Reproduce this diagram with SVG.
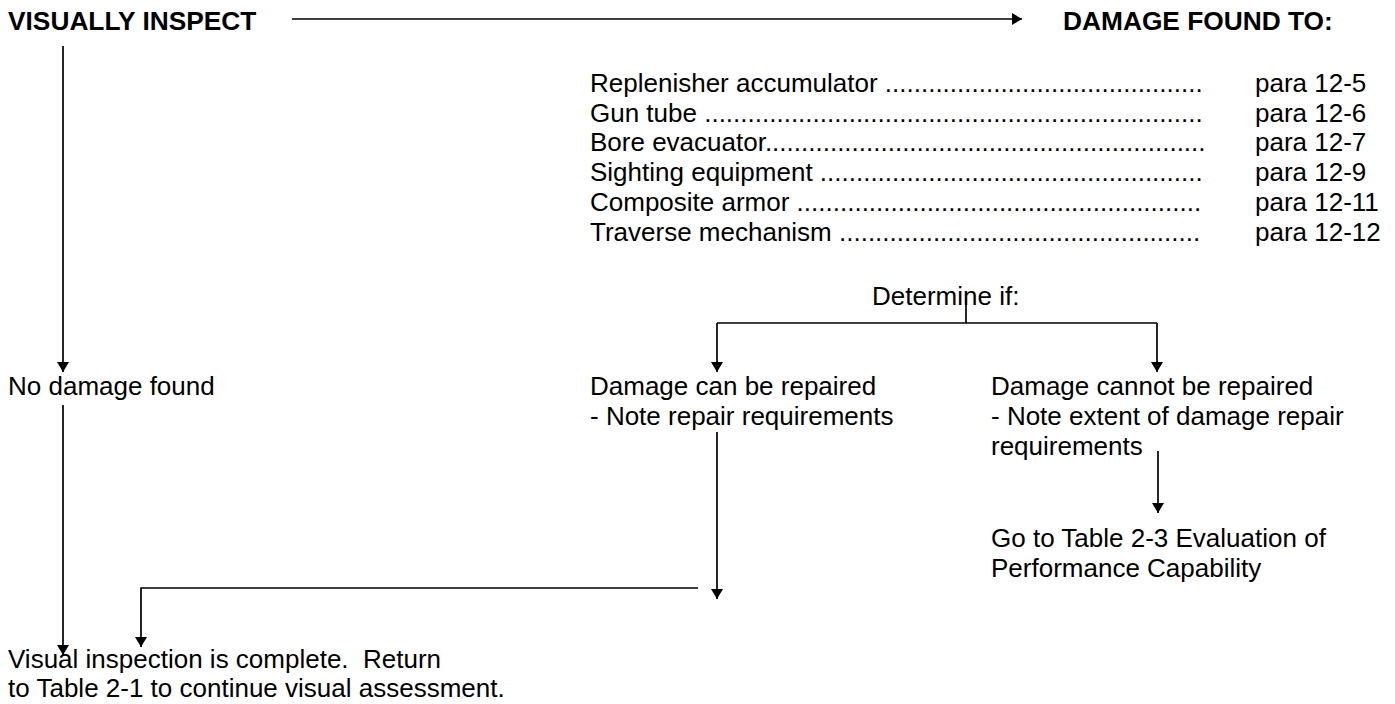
<svg xmlns="http://www.w3.org/2000/svg" width="1395" height="704" viewBox="0 0 1395 704">
  <style>
    .t { font-family: "Liberation Sans", Arial, sans-serif; font-size: 26px; fill: #000; }
    .b { font-family: "Liberation Sans", Arial, sans-serif; font-size: 26.3px; font-weight: bold; fill: #000; }
    .ln { fill: none; stroke: #000; stroke-width: 1.7; }
    .arr { marker-end: url(#head); }
  </style>
  <defs>
    <marker id="head" viewBox="0 0 10 12" refX="10" refY="6" markerWidth="10" markerHeight="12" markerUnits="userSpaceOnUse" orient="auto">
      <path d="M0,0 L10,6 L0,12 z" fill="#000"/>
    </marker>
  </defs>

  <rect width="1395" height="704" fill="#fff"/>

  <g id="connectors">
    <!-- inspect -> damage found -->
    <line class="ln arr" x1="292" y1="19" x2="1022" y2="19"/>
    <!-- inspect -> no damage -->
    <line class="ln arr" x1="63" y1="46" x2="63" y2="372"/>
    <!-- no damage -> complete -->
    <line class="ln arr" x1="63" y1="405" x2="63" y2="655"/>
    <!-- determine split -->
    <line class="ln" x1="966" y1="298" x2="966" y2="323"/>
    <line class="ln" x1="717" y1="323" x2="1157" y2="323"/>
    <line class="ln arr" x1="717" y1="323" x2="717" y2="372"/>
    <line class="ln arr" x1="1157" y1="323" x2="1157" y2="372"/>
    <!-- cannot repair -> table 2-3 -->
    <line class="ln arr" x1="1158" y1="451" x2="1158" y2="513"/>
    <!-- can repair -> complete -->
    <line class="ln arr" x1="717" y1="432" x2="717" y2="599"/>
    <polyline class="ln arr" points="698,588 141,588 141,647"/>
  </g>

  <g id="inspect">
    <text class="b" x="8" y="30">VISUALLY INSPECT</text>
  </g>

  <g id="damage-found">
    <text class="b" x="1063" y="30">DAMAGE FOUND TO:</text>
    <text class="t" x="590" y="92">Replenisher accumulator ............................................</text>
    <text class="t" x="590" y="121.7">Gun tube .....................................................................</text>
    <text class="t" x="590" y="151.4">Bore evacuator.............................................................</text>
    <text class="t" x="590" y="181.1">Sighting equipment .....................................................</text>
    <text class="t" x="590" y="210.8">Composite armor ........................................................</text>
    <text class="t" x="590" y="240.5">Traverse mechanism ..................................................</text>
    <text class="t" x="1255" y="92">para 12-5</text>
    <text class="t" x="1255" y="121.7">para 12-6</text>
    <text class="t" x="1255" y="151.4">para 12-7</text>
    <text class="t" x="1255" y="181.1">para 12-9</text>
    <text class="t" x="1255" y="210.8">para 12-11</text>
    <text class="t" x="1255" y="240.5">para 12-12</text>
  </g>

  <g id="determine">
    <text class="t" x="872" y="305">Determine if:</text>
  </g>

  <g id="no-damage">
    <text class="t" x="8" y="395">No damage found</text>
  </g>

  <g id="can-repair">
    <text class="t" x="590" y="395">Damage can be repaired</text>
    <text class="t" x="590" y="425">- Note repair requirements</text>
  </g>

  <g id="cannot-repair">
    <text class="t" x="991" y="395">Damage cannot be repaired</text>
    <text class="t" x="991" y="425">- Note extent of damage repair</text>
    <text class="t" x="991" y="455">requirements</text>
  </g>

  <g id="table-2-3">
    <text class="t" x="991" y="547">Go to Table 2-3 Evaluation of</text>
    <text class="t" x="991" y="577">Performance Capability</text>
  </g>

  <g id="complete">
    <text class="t" x="8" y="668" xml:space="preserve">Visual inspection is complete.  Return</text>
    <text class="t" x="8" y="697">to Table 2-1 to continue visual assessment.</text>
  </g>
</svg>
